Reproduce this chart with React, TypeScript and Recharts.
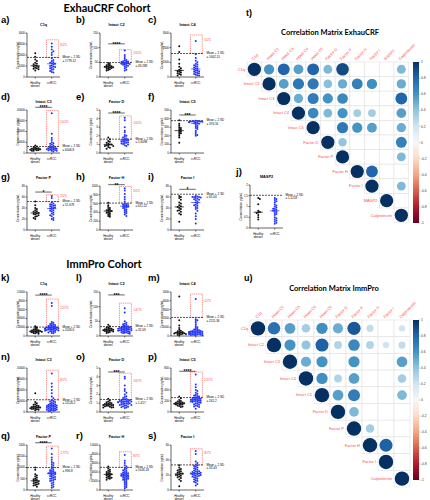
import React from 'react';
import {
  ScatterChart,
  Scatter,
  XAxis,
  YAxis,
  ReferenceLine,
  ReferenceArea,
} from 'recharts';

// ---- ExhauCRF cohort: healthy donors vs ccRCC ----
const A_H = [2150, 1850, 1600, 1450, 1300, 1200, 1150, 1050, 1000, 950, 900, 850, 800, 750, 700, 600];
const A_R = [3050, 2750, 2500, 2350, 2200, 2000, 1700, 1550, 1450, 1350, 1300, 1250, 1200, 1150, 1050, 1000, 950, 900, 850, 800, 700, 650, 550, 450, 400];
const B_H = [48, 44, 42, 40, 38, 37, 36, 35, 34, 33, 32, 31, 30, 28, 26, 24, 22];
const B_R = [90, 75, 68, 62, 58, 56, 54, 53, 52, 51, 49, 48, 47, 46, 45, 44, 43, 42, 40, 38, 36, 33, 30, 25, 22];
const C_H = [2100, 1700, 1200, 900, 700, 600, 500, 450, 400, 350, 300, 250, 200, 150, 100];
const C_R = [2450, 1550, 1300, 1100, 1000, 900, 850, 800, 750, 700, 650, 600, 550, 500, 450, 420, 400, 350, 300, 280, 250, 200, 150, 120, 100];
const D_H = [7000, 6000, 5500, 5000, 4500, 4200, 4000, 3800, 3500, 3200, 3000, 2800, 2500, 2200, 2000];
const D_R = [37000, 18000, 14000, 12000, 10000, 9000, 8500, 8000, 7000, 6500, 5500, 5000, 4800, 4500, 4200, 4000, 3800, 3500, 3200, 3000, 2800, 2500, 2200, 2000, 1500];
const E_H = [1.8, 1.6, 1.4, 1.3, 1.2, 1.1, 1.0, 1.0, 0.9, 0.9, 0.8, 0.8, 0.7, 0.6, 0.5];
const E_R = [4.1, 3.8, 3.0, 2.6, 2.4, 2.1, 2.0, 1.9, 1.8, 1.7, 1.6, 1.55, 1.5, 1.45, 1.4, 1.35, 1.3, 1.25, 1.2, 1.1, 1.0, 0.9, 0.8, 1.15, 1.05];
const F_H = [380, 340, 320, 300, 290, 280, 270, 260, 250, 240, 230, 220, 200, 180, 120];
const F_R = [375, 372, 370, 370, 368, 365, 365, 362, 360, 358, 355, 350, 345, 340, 330, 320, 310, 300, 290, 280, 260, 240, 220, 210, 200];
const G_H = [52, 45, 40, 38, 36, 34, 33, 32, 31, 30, 29, 28, 27, 25, 24, 22, 20];
const G_R = [62, 58, 50, 48, 47, 46, 45, 44, 43, 42, 41, 40, 39, 38, 36, 35, 34, 32, 30, 28, 27, 25, 22, 20, 18];
const H_H = [620, 560, 520, 500, 480, 460, 450, 440, 430, 420, 400, 390, 380, 360, 340, 320, 300];
const H_R = [950, 900, 820, 750, 700, 650, 600, 590, 580, 570, 560, 550, 540, 530, 520, 510, 500, 480, 460, 440, 420, 400, 380, 350, 320];
const I_H = [62, 60, 58, 55, 50, 48, 45, 43, 42, 40, 38, 36, 35, 33, 30, 28, 15];
const I_R = [62, 61, 60, 60, 60, 59, 58, 57, 56, 55, 54, 52, 50, 48, 46, 45, 44, 42, 40, 38, 35, 30, 25, 20, 12];
const J_H = [1.4, 1.35, 1.1, 0.8, 0.75, 0.72, 0.7, 0.6, 0.5, 0.4];
const J_R = [1.4, 1.35, 1.3, 1.25, 1.2, 1.1, 1.05, 1.0, 0.95, 0.9, 0.9, 0.85, 0.8, 0.8, 0.75, 0.7, 0.65, 0.6, 0.5, 0.45, 0.4, 0.35, 0.3, 0.25, 0.2];

// ---- ImmPro cohort ----
const K_H = [2200, 2000, 1800, 1600, 1500, 1400, 1300, 1250, 1200, 1150, 1100, 1050, 1000, 950, 900, 850, 800, 700, 600, 500];
const K_R = [7500, 6800, 3200, 3000, 2800, 2700, 2600, 2500, 2400, 2300, 2200, 2100, 1980, 1950, 1900, 1850, 1800, 1750, 1700, 1650, 1600, 1550, 1500, 1450, 1400, 1350, 1300, 1250, 1200, 1150, 1100, 1000, 900, 800, 700, 600, 2250, 1960, 1750, 1500];
const L_H = [38, 33, 30, 28, 26, 25, 24, 23, 22, 21, 20, 20, 19, 18, 17, 16, 15, 14, 12, 10];
const L_R = [95, 80, 50, 45, 42, 40, 38, 35, 34, 33, 31, 30, 29, 28, 27, 26, 25, 25, 24, 23, 22, 22, 21, 20, 20, 19, 18, 18, 17, 16, 15, 14, 13, 12, 11, 10, 9, 8, 30, 27];
const M_H = [4500, 1800, 1200, 900, 700, 600, 550, 500, 450, 400, 380, 350, 320, 300, 280, 250, 220, 200, 150, 100];
const M_R = [4200, 1900, 1800, 1700, 1500, 1300, 1100, 1000, 900, 800, 750, 700, 650, 600, 580, 560, 540, 520, 500, 480, 460, 440, 420, 400, 380, 360, 340, 320, 300, 280, 260, 240, 220, 200, 180, 160, 140, 120, 100, 80];
const N_H = [17000, 9000, 8000, 7000, 6500, 6000, 5500, 5000, 4800, 4500, 4200, 4000, 3800, 3500, 3200, 3000, 2800, 2500, 2000, 1500];
const N_R = [35000, 26000, 23000, 20000, 17000, 14000, 12500, 10500, 10000, 9500, 9000, 8500, 8000, 7500, 7000, 6800, 6500, 6200, 6000, 5800, 5500, 5200, 5000, 4800, 4500, 4200, 4000, 3800, 3500, 3200, 3000, 2800, 2500, 2200, 2000, 1800, 1500, 1200, 1000, 800];
const O_H = [1.5, 1.3, 1.2, 1.1, 1.05, 1.0, 0.95, 0.9, 0.9, 0.85, 0.8, 0.8, 0.75, 0.7, 0.7, 0.65, 0.6, 0.55, 0.5, 0.5];
const O_R = [4.0, 3.8, 3.0, 2.6, 2.4, 2.2, 2.0, 1.8, 1.7, 1.6, 1.5, 1.45, 1.4, 1.35, 1.3, 1.3, 1.25, 1.2, 1.2, 1.15, 1.1, 1.1, 1.05, 1.0, 1.0, 0.95, 0.9, 0.9, 0.85, 0.8, 0.8, 0.75, 0.7, 0.65, 0.6, 0.55, 0.5, 0.45, 1.25, 1.15];
const P_H = [280, 250, 220, 200, 190, 180, 175, 170, 165, 160, 155, 150, 145, 140, 135, 130, 120, 110, 100, 90];
const P_R = [680, 500, 450, 400, 380, 350, 330, 310, 300, 290, 280, 270, 265, 255, 250, 245, 240, 235, 230, 225, 220, 215, 210, 205, 200, 195, 190, 185, 180, 175, 170, 160, 150, 140, 130, 120, 110, 100, 90, 60];
const Q_H = [1000, 900, 700, 650, 600, 550, 500, 480, 450, 420, 400, 380, 350, 320, 300, 280, 250, 220, 200, 150];
const Q_R = [1850, 1600, 1450, 1350, 1250, 1200, 1150, 1100, 1050, 1000, 950, 900, 880, 850, 820, 800, 780, 760, 740, 720, 700, 680, 650, 620, 600, 580, 550, 520, 500, 480, 450, 420, 400, 350, 300, 250, 200, 150, 100, 750];
const R_H = [5200, 4800, 4500, 4300, 4100, 4000, 3800, 3700, 3600, 3500, 3400, 3300, 3200, 3000, 2900, 2800, 2700, 2600, 2500, 2300];
const R_R = [7800, 6500, 6000, 5500, 5200, 4900, 4700, 4500, 4400, 4200, 4000, 3900, 3800, 3700, 3600, 3500, 3400, 3300, 3200, 3100, 3000, 2900, 2800, 2700, 2600, 2500, 2400, 2300, 2200, 2000, 1800, 1600, 1400, 1200, 1000, 800, 600, 400, 3550, 3150];
const S_H = [33, 30, 28, 27, 26, 25, 24, 23, 22, 22, 21, 20, 20, 19, 18, 17, 16, 14, 12, 5];
const S_R = [52, 48, 38, 36, 34, 33, 32, 31, 30, 29, 28, 27, 26, 25, 25, 24, 24, 23, 23, 22, 22, 21, 21, 20, 20, 19, 19, 18, 18, 17, 16, 15, 14, 13, 12, 11, 10, 8, 6, 22];

// ---- correlation matrices (upper triangle, row by row from the diagonal; null = blank) ----
const T_LABELS = ['C1q', 'Intact C2', 'Intact C3', 'Intact C4', 'Intact C5', 'Factor D', 'Factor P', 'Factor H', 'Factor I', 'MASP2', 'Calprotectin'];
const T_CORR: (number | null)[][] = [
  [1, 0.6, 0.8, 0.55, 0.8, 0.45, 0.9, null, null, null, 0.45],
  [1, 0.55, 0.72, 0.72, 0.42, 0.5, 0.68, 0.62, null, 0.5],
  [1, 0.5, 0.7, 0.6, 0.65, null, null, null, 0.8],
  [1, 0.65, 0.45, 0.6, 0.35, 0.35, null, 0.55],
  [1, null, 0.72, 0.6, 0.55, null, 0.5],
  [1, 0.4, null, null, null, 0.68],
  [1, null, null, null, 0.45],
  [1, 0.8, null, null],
  [1, null, 0.45],
  [1, null],
  [1],
];
const U_LABELS = ['C1q', 'Intact C2', 'Intact C3', 'Intact C4', 'Intact C5', 'Factor D', 'Factor P', 'Factor H', 'Factor I', 'Calprotectin'];
const U_CORR: (number | null)[][] = [
  [1, 0.75, 0.55, 0.35, 0.62, 0.5, 0.85, 0.25, null, 0.2],
  [1, 0.6, 0.4, 0.82, 0.3, 0.65, 0.3, 0.2, 0.25],
  [1, 0.5, 0.6, null, 0.6, null, null, 0.55],
  [1, 0.62, 0.3, 0.55, null, null, 0.35],
  [1, 0.55, 0.7, null, null, 0.45],
  [1, 0.45, null, null, null],
  [1, 0.35, null, null],
  [1, 0.82, null],
  [1, null],
  [1],
];
const CB_TICKS = [-1, -0.8, -0.6, -0.4, -0.2, 0, 0.2, 0.4, 0.6, 0.8, 1];

const FONT = '"Liberation Sans", Arial, sans-serif';
const BLUE = '#2233ff';
const RED = '#ff4d4d';
// RdBu palette from +1 (top) to -1 (bottom)
const RDBU = ['#053061', '#2166AC', '#4393C3', '#92C5DE', '#D1E5F0', '#F7F7F7', '#FDDBC7', '#F4A582', '#D6604D', '#B2182B', '#67001F'];

function hex(c: string) {
  return [1, 3, 5].map((i) => parseInt(c.slice(i, i + 2), 16));
}
function colorFor(v: number) {
  const t = Math.min(Math.max((1 - v) / 0.2, 0), 10);
  const i = Math.min(Math.floor(t), 9);
  const f = t - i;
  const a = hex(RDBU[i]);
  const b = hex(RDBU[i + 1]);
  const m = a.map((x, k) => Math.round(x + (b[k] - x) * f));
  return `rgb(${m.join(',')})`;
}

// simple beeswarm so close values spread sideways like a dot plot
function swarm(vals: number[], center: number, yMax: number) {
  const dy = yMax * 0.04;
  const dx = 0.1;
  const placed: { x: number; y: number }[] = [];
  [...vals].sort((a, b) => b - a).forEach((v) => {
    let x = center;
    for (let k = 0; k < 9; k++) {
      const off = k === 0 ? 0 : Math.ceil(k / 2) * dx * (k % 2 ? 1 : -1);
      x = center + off;
      if (!placed.some((p) => Math.abs(p.x - x) < dx * 0.9 && Math.abs(p.y - v) < dy)) break;
    }
    placed.push({ x, y: v });
  });
  return placed;
}

function median(vals: number[]) {
  const s = [...vals].sort((a, b) => a - b);
  const m = Math.floor(s.length / 2);
  return s.length % 2 ? s[m] : (s[m - 1] + s[m]) / 2;
}

function Txt({ x, y, size, bold, center, color, family, children }: any) {
  return (
    <div
      style={{
        position: 'absolute',
        left: x,
        top: y,
        fontSize: size,
        fontWeight: bold ? 700 : 400,
        fontFamily: family || FONT,
        color: color || '#000',
        lineHeight: 1,
        whiteSpace: 'nowrap',
        transform: center ? 'translate(-50%, -50%)' : 'translateY(-50%)',
      }}
    >
      {children}
    </div>
  );
}

function CatTick(props: any) {
  const { x, y, payload } = props;
  if (payload.value === 1) {
    return (
      <text x={x} y={y + 3} textAnchor="middle" fontSize={3} fill="#000">
        <tspan x={x}>Healthy</tspan>
        <tspan x={x} dy={3.3}>donors</tspan>
      </text>
    );
  }
  return (
    <text x={x} y={y + 3} textAnchor="middle" fontSize={3} fill="#000">
      ccRCC
    </text>
  );
}

function YLab(props: any) {
  const vb = props.viewBox || {};
  const x = vb.x + vb.width - 8.5;
  const y = vb.y + vb.height / 2;
  return (
    <text x={x} y={y} transform={`rotate(-90 ${x} ${y})`} textAnchor="middle" fontSize={3} fill="#000">
      Concentration pg/mL
    </text>
  );
}

function MeanLabel(props: any) {
  const vb = props.viewBox || {};
  const x = vb.x + vb.width + 2.5;
  return (
    <text x={x} y={vb.y + 0.8} fontSize={3} fill="#000">
      <tspan x={x}>Mean + 2 SD</tspan>
      <tspan x={x} dy={3.3}>{props.text}</tspan>
    </text>
  );
}

function RatioLabel(props: any) {
  const vb = props.viewBox || {};
  return (
    <text x={vb.x + vb.width + 2} y={vb.y + vb.height * 0.35} fontSize={3.3} fill={RED}>
      {props.text}
    </text>
  );
}

function SigLabel(props: any) {
  const vb = props.viewBox || {};
  return (
    <text x={vb.x + vb.width / 2} y={vb.y + 1.9} textAnchor="middle" fontSize={5} fontWeight={700} fill="#000">
      {props.text}
    </text>
  );
}

type PanelDef = {
  id: string;
  title: string;
  healthy: number[];
  rcc: number[];
  yMax: number;
  ticks: number[];
  cutoff: number;
  cutText: string;
  ratio?: string;
  boxTop?: number;
  sig?: string;
  sigY?: number;
  col: number;
  row: number;
};

const COL_AXIS = [27, 100, 171];
const COL_LETTER = [1, 76, 148];
const ROW_TOP = [33, 110, 186, 292, 368, 445];
const ROW_H = [44, 43, 44, 44, 44, 45];
const ROW_LETTER = [20, 97, 177, 278, 357, 436];

const PANELS: PanelDef[] = [
  { id: 'a', title: 'C1q', healthy: A_H, rcc: A_R, yMax: 4000, ticks: [0, 1000, 2000, 3000, 4000], cutoff: 1778.12, cutText: '= 1778.12', ratio: '6/25', boxTop: 3380, col: 0, row: 0 },
  { id: 'b', title: 'Intact C2', healthy: B_H, rcc: B_R, yMax: 150, ticks: [0, 50, 100, 150], cutoff: 49.288, cutText: '= 49.288', ratio: '10/25', boxTop: 93, sig: '****', sigY: 113, col: 1, row: 0 },
  { id: 'c', title: 'Intact C4', healthy: C_H, rcc: C_R, yMax: 3000, ticks: [0, 1000, 2000, 3000], cutoff: 1602.15, cutText: '= 1602.15', ratio: '1/25', boxTop: 2870, col: 2, row: 0 },
  { id: 'd', title: 'Intact C3', healthy: D_H, rcc: D_R, yMax: 40000, ticks: [0, 10000, 20000, 30000, 40000], cutoff: 6006.8, cutText: '= 6006.8', ratio: '10/25', boxTop: 39500, sig: '****', sigY: 42500, col: 0, row: 1 },
  { id: 'e', title: 'Factor D', healthy: E_H, rcc: E_R, yMax: 5, ticks: [0, 1, 2, 3, 4, 5], cutoff: 1.6098, cutText: '= 1.6098', ratio: '10/25', boxTop: 4.3, sig: '****', sigY: 4.65, col: 1, row: 1 },
  { id: 'f', title: 'Intact C5', healthy: F_H, rcc: F_R, yMax: 500, ticks: [0, 100, 200, 300, 400, 500], cutoff: 376.16, cutText: '= 376.16', sig: '***', sigY: 442, col: 2, row: 1 },
  { id: 'g', title: 'Factor P', healthy: G_H, rcc: G_R, yMax: 80, ticks: [0, 20, 40, 60, 80], cutoff: 51.678, cutText: '= 51.678', ratio: '2/25', boxTop: 64, sig: '*', sigY: 69, col: 0, row: 2 },
  { id: 'h', title: 'Factor H', healthy: H_H, rcc: H_R, yMax: 1000, ticks: [0, 200, 400, 600, 800, 1000], cutoff: 611.22, cutText: '= 611.22', ratio: '6/25', boxTop: 990, sig: '**', sigY: 1030, col: 1, row: 2 },
  { id: 'i', title: 'Factor I', healthy: I_H, rcc: I_R, yMax: 80, ticks: [0, 20, 40, 60, 80], cutoff: 65.04, cutText: '= 65.04', sig: '*', sigY: 74, col: 2, row: 2 },
  { id: 'k', title: 'C1q', healthy: K_H, rcc: K_R, yMax: 10000, ticks: [0, 2000, 4000, 6000, 8000, 10000], cutoff: 2026.6, cutText: '= 2026.6', ratio: '22/75', boxTop: 8400, sig: '****', sigY: 9300, col: 0, row: 3 },
  { id: 'l', title: 'Intact C2', healthy: L_H, rcc: L_R, yMax: 150, ticks: [0, 50, 100, 150], cutoff: 32.09, cutText: '= 32.09', ratio: '14/75', boxTop: 112, sig: '***', sigY: 140, col: 1, row: 3 },
  { id: 'm', title: 'Intact C4', healthy: M_H, rcc: M_R, yMax: 5000, ticks: [0, 1000, 2000, 3000, 4000, 5000], cutoff: 2111.36, cutText: '= 2111.36', ratio: '1/75', boxTop: 4770, col: 2, row: 3 },
  { id: 'n', title: 'Intact C3', healthy: N_H, rcc: N_R, yMax: 40000, ticks: [0, 10000, 20000, 30000, 40000], cutoff: 11126.2, cutText: '= 11126.2', ratio: '8/75', boxTop: 38000, col: 0, row: 4 },
  { id: 'o', title: 'Factor D', healthy: O_H, rcc: O_R, yMax: 5, ticks: [0, 1, 2, 3, 4, 5], cutoff: 1.417, cutText: '= 1.417', ratio: '16/75', boxTop: 4.4, sig: '***', sigY: 4.55, col: 1, row: 4 },
  { id: 'p', title: 'Intact C5', healthy: P_H, rcc: P_R, yMax: 800, ticks: [0, 200, 400, 600, 800], cutoff: 262.2, cutText: '= 262.2', ratio: '22/75', boxTop: 727, sig: '****', sigY: 740, col: 2, row: 4 },
  { id: 'q', title: 'Factor P', healthy: Q_H, rcc: Q_R, yMax: 2000, ticks: [0, 500, 1000, 1500, 2000], cutoff: 996.8, cutText: '= 996.8', ratio: '17/75', boxTop: 1950, sig: '****', sigY: 2100, col: 0, row: 5 },
  { id: 'r', title: 'Factor H', healthy: R_H, rcc: R_R, yMax: 10000, ticks: [0, 2000, 4000, 6000, 8000, 10000], cutoff: 5026.18, cutText: '= 5026.18', ratio: '8/75', boxTop: 8500, col: 1, row: 5 },
  { id: 's', title: 'Factor I', healthy: S_H, rcc: S_R, yMax: 60, ticks: [0, 20, 40, 60], cutoff: 33.43, cutText: '= 33.43', ratio: '8/75', boxTop: 55, col: 2, row: 5 },
];

const PANEL_J: PanelDef = { id: 'j', title: 'MASP2', healthy: J_H, rcc: J_R, yMax: 2, ticks: [0, 0.5, 1, 1.5, 2], cutoff: 1.5218, cutText: '= 1.5218', col: -1, row: -1 };

const dot = (color: string) => (props: any) => <circle cx={props.cx} cy={props.cy} r={1} fill={color} />;

function Panel({ p, axisX, plotTop, plotH, lx, ly }: { p: PanelDef; axisX: number; plotTop: number; plotH: number; lx: number; ly: number }) {
  const hPts = swarm(p.healthy, 1, p.yMax);
  const rPts = swarm(p.rcc, 2, p.yMax);
  const hMed = median(p.healthy);
  const rMed = median(p.rcc);
  return (
    <>
      <Txt x={lx} y={ly} size={9.5} bold>{p.id + ')'}</Txt>
      <Txt x={axisX + 16.5} y={plotTop - 7} size={3.8} bold center>{p.title}</Txt>
      <div style={{ position: 'absolute', left: axisX - 20, top: plotTop - 10 }}>
        <ScatterChart width={80} height={plotH + 26} margin={{ top: 10, right: 27, bottom: 0, left: 0 }}>
          <XAxis
            type="number"
            dataKey="x"
            domain={[0.5, 2.5]}
            ticks={[1, 2]}
            interval={0}
            height={16}
            tick={<CatTick />}
            tickSize={1.5}
            axisLine={{ stroke: '#000', strokeWidth: 0.6 }}
            tickLine={{ stroke: '#000', strokeWidth: 0.6 }}
            allowDataOverflow
          />
          <YAxis
            type="number"
            dataKey="y"
            domain={[0, p.yMax]}
            ticks={p.ticks}
            interval={0}
            width={20}
            tickSize={1.5}
            tickMargin={0.6}
            tick={{ fontSize: 2.8, fill: '#000' }}
            axisLine={{ stroke: '#000', strokeWidth: 0.6 }}
            tickLine={{ stroke: '#000', strokeWidth: 0.6 }}
            label={<YLab />}
            allowDataOverflow
          />
          {p.ratio && (
            <ReferenceArea
              x1={1.68}
              x2={2.4}
              y1={p.cutoff}
              y2={p.boxTop}
              fill="none"
              stroke={RED}
              strokeWidth={0.7}
              strokeDasharray="1 0.8"
              ifOverflow="visible"
              label={<RatioLabel text={p.ratio} />}
            />
          )}
          {p.sig && (
            <ReferenceLine
              segment={[{ x: 1, y: p.sigY }, { x: 2, y: p.sigY }]}
              stroke="#000"
              strokeWidth={0.6}
              ifOverflow="visible"
              label={<SigLabel text={p.sig} />}
            />
          )}
          <ReferenceLine
            y={p.cutoff}
            stroke="#111"
            strokeWidth={0.7}
            strokeDasharray="2 1"
            label={<MeanLabel text={p.cutText} />}
          />
          <Scatter data={hPts} shape={dot('#111')} isAnimationActive={false} />
          <Scatter data={rPts} shape={dot(BLUE)} isAnimationActive={false} />
          <ReferenceLine segment={[{ x: 0.72, y: hMed }, { x: 1.28, y: hMed }]} stroke="#000" strokeWidth={0.7} />
          <ReferenceLine segment={[{ x: 1.72, y: rMed }, { x: 2.28, y: rMed }]} stroke={BLUE} strokeWidth={0.7} />
        </ScatterChart>
      </div>
    </>
  );
}

function CorrMatrix({ labels, corr, gridLeft, gridTop, cellW, cellH }: any) {
  const n = labels.length;
  const cells: { x: number; y: number; v: number | null }[] = [];
  corr.forEach((row: (number | null)[], i: number) => row.forEach((v, k) => cells.push({ x: i + k, y: i, v })));
  const ML = 44;
  const MT = 32;
  const MR = 20;
  const shape = (props: any) => {
    const { cx, cy, payload } = props;
    const diag = payload.x === payload.y;
    const top = cy - (payload.y + 0.5) * cellH;
    return (
      <g>
        <rect x={cx - cellW / 2} y={cy - cellH / 2} width={cellW} height={cellH} fill="#fff" stroke="#e2e2e2" strokeWidth={0.6} />
        {payload.v != null && (
          <circle cx={cx} cy={cy} r={Math.sqrt(Math.abs(payload.v)) * cellW * 0.45} fill={colorFor(payload.v)} />
        )}
        {diag && (
          <text x={cx - cellW / 2 - 2} y={cy + 1.3} textAnchor="end" fontSize={4} fill={RED}>
            {labels[payload.y]}
          </text>
        )}
        {diag && (
          <text
            x={cx - 1}
            y={top - 1.5}
            fontSize={4}
            fill={RED}
            transform={`rotate(-45 ${cx - 1} ${top - 1.5})`}
          >
            {labels[payload.x]}
          </text>
        )}
      </g>
    );
  };
  return (
    <div style={{ position: 'absolute', left: gridLeft - ML, top: gridTop - MT }}>
      <ScatterChart width={ML + n * cellW + MR} height={MT + n * cellH + 1} margin={{ top: MT, left: ML, right: MR, bottom: 1 }}>
        <XAxis type="number" dataKey="x" domain={[-0.5, n - 0.5]} hide />
        <YAxis type="number" dataKey="y" domain={[-0.5, n - 0.5]} reversed hide />
        <Scatter data={cells} shape={shape} isAnimationActive={false} />
      </ScatterChart>
    </div>
  );
}

const CB_POINTS = CB_TICKS.map((v) => ({ x: 0.5, y: v }));

function ColorBar({ id, left, top, height }: any) {
  return (
    <div style={{ position: 'absolute', left, top: top - 3 }}>
      <ScatterChart width={17} height={height + 6} margin={{ top: 3, bottom: 3, left: 0, right: 0 }}>
        <defs>
          <linearGradient id={id} x1="0" y1="0" x2="0" y2="1">
            {RDBU.map((c, i) => (
              <stop key={c} offset={`${i * 10}%`} stopColor={c} />
            ))}
          </linearGradient>
        </defs>
        <XAxis type="number" dataKey="x" domain={[0, 1]} hide />
        <YAxis
          type="number"
          dataKey="y"
          domain={[-1, 1]}
          ticks={CB_TICKS}
          interval={0}
          orientation="right"
          width={11}
          tickSize={1.2}
          tickMargin={0.8}
          axisLine={false}
          tick={{ fontSize: 3.3, fill: '#333' }}
          tickLine={{ stroke: '#666', strokeWidth: 0.4 }}
        />
        <ReferenceArea x1={0} x2={1} y1={-1} y2={1} fill={`url(#${id})`} fillOpacity={1} stroke="none" ifOverflow="visible" />
        <Scatter data={CB_POINTS} shape={() => <g />} isAnimationActive={false} />
      </ScatterChart>
    </div>
  );
}

export default function App() {
  return (
    <div style={{ position: 'absolute', left: 0, top: 0, width: 430, height: 500, background: '#fff', fontFamily: FONT, overflow: 'hidden' }}>
      <Txt x={107} y={7} size={11} bold center family="Lato, sans-serif">ExhauCRF Cohort</Txt>
      <Txt x={104} y={263} size={11} bold center family="Lato, sans-serif">ImmPro Cohort</Txt>

      {PANELS.map((p) => (
        <Panel
          key={p.id}
          p={p}
          axisX={COL_AXIS[p.col]}
          plotTop={ROW_TOP[p.row]}
          plotH={ROW_H[p.row]}
          lx={COL_LETTER[p.col]}
          ly={ROW_LETTER[p.row]}
        />
      ))}
      <Panel p={PANEL_J} axisX={250} plotTop={185} plotH={43} lx={236} ly={172} />

      <Txt x={246} y={13} size={9} bold>t)</Txt>
      <Txt x={330} y={33} size={7.5} bold center family="Lato, sans-serif">Correlation Matrix ExhauCRF</Txt>
      <CorrMatrix labels={T_LABELS} corr={T_CORR} gridLeft={247} gridTop={62} cellW={14.7} cellH={14.6} />
      <ColorBar id="rdbu-t" left={413} top={62} height={161} />

      <Txt x={244} y={278} size={9} bold>u)</Txt>
      <Txt x={334} y={289} size={7.5} bold center family="Lato, sans-serif">Correlation Matrix ImmPro</Txt>
      <CorrMatrix labels={U_LABELS} corr={U_CORR} gridLeft={250} gridTop={320} cellW={16} cellH={16.7} />
      <ColorBar id="rdbu-u" left={413} top={320} height={160} />
    </div>
  );
}
